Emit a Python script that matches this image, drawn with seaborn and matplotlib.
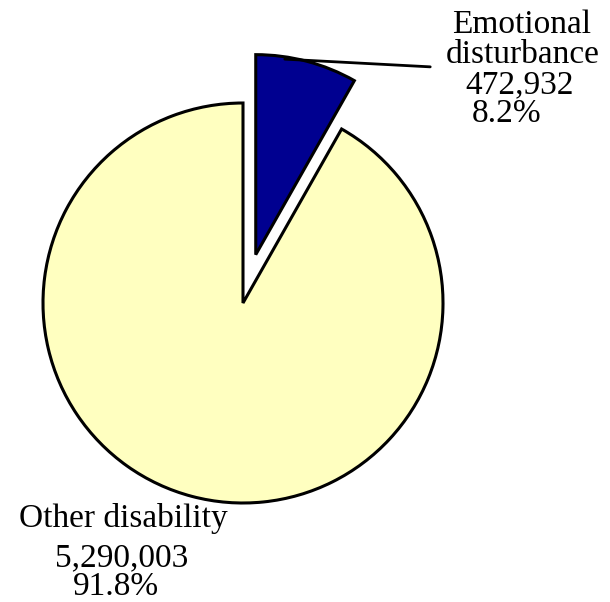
import matplotlib
matplotlib.use("Agg")
import matplotlib.pyplot as plt
import seaborn as sns

categories = ["Emotional disturbance", "Other disability"]
counts = [472932, 5290003]
percents = ["8.2%", "91.8%"]
count_labels = ["472,932", "5,290,003"]
colors = ["#000090", "#FFFFC0"]

sns.set_theme(style="white")
plt.rcParams['font.family'] = ['Liberation Serif', 'DejaVu Serif']

W, H = 610, 602
fig = plt.figure(figsize=(W / 100, H / 100), dpi=100)
ax = fig.add_axes([0, 0, 1, 1])
ax.axis('off')

wedges, _ = ax.pie(counts, colors=colors, startangle=90, counterclock=False,
                   explode=[0.25, 0], radius=1.0,
                   wedgeprops=dict(edgecolor='black', linewidth=2.2))

ax.set_xlim(-1.215, 1.835)
ax.set_ylim(-1.495, 1.515)
ax.set_aspect('equal')

ax.annotate("", xy=(0.195, 1.22), xytext=(0.95, 1.18),
            arrowprops=dict(arrowstyle='-', color='black', lw=2))

fs = 24


def put(text, px, py):
    fig.text(px / W, 1 - py / H, text, ha='center', va='baseline',
             fontsize=fs, color='black')


e1, e2 = categories[0].split(" ")
put(e1, 522, 33)
put(e2, 523, 63)
put(count_labels[0], 520, 93)
put(percents[0], 507, 122)

put(categories[1], 123, 527)
put(count_labels[1], 122, 566)
put(percents[1], 116, 595)

fig.savefig("out.png", dpi=100)
